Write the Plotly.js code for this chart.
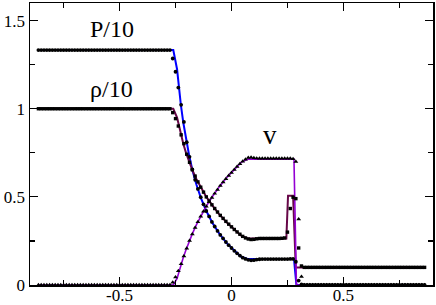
<!DOCTYPE html>
<html>
<head>
<meta charset="utf-8">
<script src="https://cdn.plot.ly/plotly-3.0.1.min.js"></script>
<style>html,body{margin:0;padding:0;background:#fff;}#chart{width:436px;height:305px;}</style>
</head>
<body>
<div id="chart"></div>
<script>
// numerical solution sample positions
const xGrid = [-0.8625,-0.85,-0.8375,-0.825,-0.8125,-0.8,-0.7875,-0.775,-0.7625,-0.75,
-0.7375,-0.725,-0.7125,-0.7,-0.6875,-0.675,-0.6625,-0.65,-0.6375,-0.625,
-0.6125,-0.6,-0.5875,-0.575,-0.5625,-0.55,-0.5375,-0.525,-0.5125,-0.5,
-0.4875,-0.475,-0.4625,-0.45,-0.4375,-0.425,-0.4125,-0.4,-0.3875,-0.375,
-0.3625,-0.35,-0.3375,-0.325,-0.3125,-0.3,-0.2875,-0.275,
-0.2625,-0.25,-0.2375,-0.225,-0.2125,-0.2,-0.1875,-0.175,-0.1625,-0.15,
-0.1375,-0.125,-0.1125,-0.1,-0.0875,-0.075,-0.0625,-0.05,-0.0375,-0.025,
-0.0125,0,0.0125,0.025,0.0375,0.05,0.0625,
0.075,0.0875,0.1,0.1125,0.125,0.1375,0.15,0.1625,0.175,0.1875,
0.2,0.2125,0.225,0.2375,0.25,0.2625,0.275,0.2875,0.3,
0.3125,0.325,0.3375,0.35,0.3625,0.375,0.3875,0.4,0.4125,0.425,
0.4375,0.45,0.4625,0.475,0.4875,0.5,0.5125,0.525,0.5375,0.55,
0.5625,0.575,0.5875,0.6,0.6125,0.625,0.6375,0.65,0.6625,0.675,
0.6875,0.7,0.7125,0.725,0.7375,0.75,0.7625,0.775,0.7875,0.8,
0.8125,0.825,0.8375,0.85,0.8625];

// numerical P/10
const pNum = [1.333,1.333,1.333,1.333,1.333,1.333,1.333,1.333,1.333,1.333,1.333,1.333,
1.333,1.333,1.333,1.333,1.333,1.333,1.333,1.333,1.333,1.333,1.333,1.333,
1.333,1.333,1.333,1.333,1.333,1.333,1.333,1.333,1.333,1.333,1.333,1.333,
1.333,1.333,1.333,1.333,1.333,1.333,1.333,1.333,1.333,1.333,1.333,1.333,
1.285,1.21,1.12,1.022,0.925,0.81,0.727,0.656,0.597,0.545,
0.498,0.458,0.420,0.389,0.358,0.332,0.307,0.284,0.264,0.244,
0.226,0.210,0.194,0.180,0.167,0.155,0.148,
0.143,0.140,0.141,0.144,0.146,0.147,0.147,0.147,0.147,0.147,
0.147,0.147,0.147,0.147,0.147,0.148,0.148,0.132,0.025,
0.003,
0,0,0,0,0,0,0,0,0,0,0,
0,0,0,0,0,0,0,0,0,0,0,
0,0,0,0,0,0,0,0,0,0,0,
0,0,0,0,0,0,0,0,0,0,0];

// numerical rho/10
const rhoNum = [1,1,1,1,1,1,1,1,1,1,1,1,
1,1,1,1,1,1,1,1,1,1,1,1,
1,1,1,1,1,1,1,1,1,1,1,1,
1,1,1,1,1,1,1,1,1,1,1,1,
0.978,0.944,0.902,0.852,0.802,0.742,0.696,0.654,0.618,0.585,
0.555,0.527,0.500,0.477,0.455,0.434,0.414,0.395,0.378,0.361,
0.345,0.330,0.315,0.301,0.288,0.276,0.267,
0.261,0.258,0.259,0.262,0.264,0.264,0.264,0.264,0.264,0.264,
0.264,0.264,0.265,0.267,0.300,0.434,0.498,0.490,0.210,
0.108,
0.1,0.1,0.1,0.1,0.1,0.1,0.1,0.1,0.1,0.1,0.1,
0.1,0.1,0.1,0.1,0.1,0.1,0.1,0.1,0.1,0.1,0.1,
0.1,0.1,0.1,0.1,0.1,0.1,0.1,0.1,0.1,0.1,0.1,
0.1,0.1,0.1,0.1,0.1,0.1,0.1,0.1,0.1,0.1,0.1];

// numerical v
const vNum = [0,0,0,0,0,0,0,0,0,0,0,0,
0,0,0,0,0,0,0,0,0,0,0,0,
0,0,0,0,0,0,0,0,0,0,0,0,
0,0,0,0,0,0,0,0,0,0,0,0,
0.015,0.045,0.08,0.12,0.163,0.208,0.251,0.289,0.325,0.358,
0.389,0.418,0.446,0.471,0.496,0.519,0.541,0.563,0.583,0.602,
0.621,0.638,0.655,0.671,0.687,0.701,0.713,
0.722,0.724,0.721,0.719,0.718,0.718,0.718,0.718,0.718,0.718,
0.718,0.718,0.718,0.718,0.718,0.718,0.716,0.700,0.374,
0.047,
0,0,0,0,0,0,0,0,0,0,0,
0,0,0,0,0,0,0,0,0,0,0,
0,0,0,0,0,0,0,0,0,0,0,
0,0,0,0,0,0,0,0,0,0,0];

// exact solution curves
const pLineX = [-0.864,-0.26,-0.2431,-0.2347,-0.2257,-0.215,-0.2031,-0.1894,-0.1742,-0.1564,-0.136,-0.1124,-0.085,-0.0538,-0.0175,0.0246,0.0431,0.072,0.279,0.29,0.857];
const pLineY = [1.333,1.333,1.224,1.118,1.017,0.919,0.825,0.736,0.650,0.569,0.492,0.420,0.352,0.290,0.232,0.179,0.160,0.148,0.148,0,0];
const rhoLineX = [-0.864,-0.26,-0.2431,-0.2347,-0.2257,-0.215,-0.2031,-0.1894,-0.1742,-0.1564,-0.136,-0.1124,-0.085,-0.0538,-0.0175,0.0246,0.0431,0.072,0.245,0.2525,0.275,0.287,0.857];
const rhoLineY = [1,1,0.95,0.90,0.85,0.80,0.75,0.70,0.65,0.60,0.55,0.50,0.45,0.40,0.35,0.30,0.28,0.264,0.264,0.507,0.507,0.1,0.1];
const vLineX = [-0.864,-0.26,-0.2431,-0.2347,-0.2257,-0.215,-0.2031,-0.1894,-0.1742,-0.1564,-0.136,-0.1124,-0.085,-0.0538,-0.0175,0.0246,0.0431,0.072,0.279,0.29,0.857];
const vLineY = [0,0,0.037,0.076,0.114,0.157,0.200,0.246,0.293,0.343,0.394,0.448,0.502,0.558,0.615,0.672,0.696,0.714,0.714,0,0];

// axis ticks
const xTickVals = [-0.5, 0, 0.5];
const xTickText = ['-0.5', '0', '0.5'];
const yTickVals = [0, 0.5, 1, 1.5];
const yTickText = ['0', '0.5', '1', '1.5'];

// curve labels
const labelText = ['P/10', 'ρ/10', 'v'];
const labelX = [-0.534, -0.534, 0.17];
const labelY = [1.45, 1.11, 0.85];

const serif = 'Liberation Serif';

const traces = [
  {x: pLineX, y: pLineY, mode: 'lines', line: {color: '#0000ff', width: 2}},
  {x: rhoLineX, y: rhoLineY, mode: 'lines', line: {color: 'rgb(103,7,72)', width: 2}},
  {x: vLineX, y: vLineY, mode: 'lines', line: {color: 'rgb(148,0,211)', width: 1.6}},
  {x: xGrid, y: pNum, mode: 'markers', marker: {symbol: 'circle', size: 3.8, color: '#000'}},
  {x: xGrid, y: rhoNum, mode: 'markers', marker: {symbol: 'square', size: 3.4, color: '#000'}},
  {x: xGrid, y: vNum, mode: 'markers', marker: {symbol: 'triangle-up', size: 4.3, color: '#000'}}
];

const axisCommon = {
  showgrid: false, zeroline: false, showline: true, linecolor: '#000', linewidth: 1.5,
  mirror: 'ticks', ticks: 'inside', ticklen: 8, tickwidth: 1.2, tickcolor: '#000',
  tickfont: {family: serif, size: 17, color: '#000'}
};

const layout = {
  width: 436, height: 305,
  margin: {l: 30, r: 3, t: 3, b: 20},
  paper_bgcolor: '#fff', plot_bgcolor: '#fff',
  showlegend: false,
  xaxis: Object.assign({}, axisCommon, {
    range: [-0.9, 0.9], tickmode: 'array', tickvals: xTickVals, ticktext: xTickText,
    ticklabelstandoff: -6,
    minor: {dtick: 0.25, tick0: 0, ticks: 'inside', ticklen: 5, tickwidth: 1.2, tickcolor: '#000', showgrid: false}
  }),
  yaxis: Object.assign({}, axisCommon, {
    range: [0, 1.6], tickmode: 'array', tickvals: yTickVals, ticktext: yTickText,
    minor: {dtick: 0.25, tick0: 0, ticks: 'inside', ticklen: 5, tickwidth: 1.2, tickcolor: '#000', showgrid: false}
  }),
  annotations: labelText.map((t, i) => ({
    text: t, x: labelX[i], y: labelY[i], xref: 'x', yref: 'y', showarrow: false,
    xanchor: 'center', yanchor: 'middle',
    font: {family: serif, size: i === 2 ? 27 : 24, color: '#000'}
  }))
};

Plotly.newPlot('chart', traces, layout, {staticPlot: true, displayModeBar: false});
</script>
</body>
</html>
